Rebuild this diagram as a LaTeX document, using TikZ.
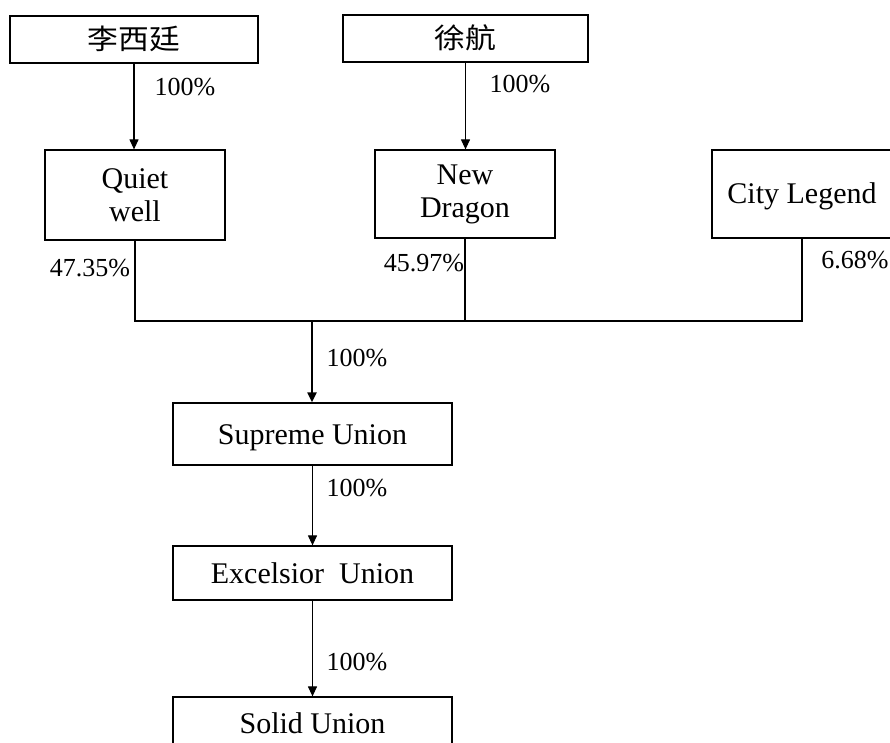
\documentclass[tikz,border=0pt]{standalone}
\usepackage{fontspec}
\setmainfont{Liberation Serif}
\newfontfamily\cjkfont[FakeStretch=1.1]{Noto Sans CJK SC}
\usetikzlibrary{arrows.meta}
\begin{document}
\begin{tikzpicture}[x=1pt,y=-1pt,
  boxbase/.style={draw, line width=1.2pt, rectangle, inner sep=0pt, align=center,
    font=\fontsize{30}{33}\selectfont},
  box/.style={boxbase, text height=20pt, text depth=0pt},
  cjkbox/.style={boxbase, text height=22pt, text depth=2pt, font=\cjkfont\fontsize{28}{30}\selectfont},
  pct/.style={inner sep=0pt, font=\fontsize{26}{30}\selectfont},
  link/.style={line width=1.1pt},
  arr/.style={line width=1.1pt, -{Triangle[length=10pt,width=9pt]}},
  thk/.style={line width=2pt}]
\useasboundingbox (0,0) rectangle (890,743);
\fill[white] (0,0) rectangle (890,743);
% boxes
\node[cjkbox, minimum width=248pt, minimum height=47pt] (a) at (134,39.5) {李西廷};
\node[cjkbox, minimum width=245pt, minimum height=47pt] (b) at (465.5,38.5) {徐航};
\node[boxbase, minimum width=180pt, minimum height=90pt] (q) at (135,195) {Quiet\\well};
\node[boxbase, minimum width=180pt, minimum height=88pt] (n) at (465,194) {New\\Dragon};
\node[box, minimum width=180pt, minimum height=88pt] (c) at (802,194) {City Legend};
\node[box, minimum width=279pt, minimum height=62pt] (s) at (312.5,434) {Supreme Union};
\node[box, minimum width=279pt, minimum height=54pt] (e) at (312.5,573) {Excelsior\ \ Union};
\node[box, minimum width=279pt, minimum height=52pt] (d) at (312.5,723) {Solid Union};
% junction
\coordinate (j) at (312,321);
% connectors
\draw[arr] (a.south) -- (a.south |- q.north);
\draw[arr] (b.south) -- (b.south |- n.north);
\draw[link] (q.south) |- (c.south |- j) -- (c.south);
\draw[link] (n.south) -- (n.south |- j);
\draw[thk] (j) -- (n.south |- j);
\draw[thk, -{Triangle[length=10pt,width=9pt]}] (j) -- (j |- s.north);
\draw[arr] (s.south) -- (s.south |- e.north);
\draw[arr] (e.south) -- (e.south |- d.north);
% labels
\node[pct] (p1) at (185,87) {100\%};
\node[pct] (p2) at (520,84) {100\%};
\node[pct] (p3) at (90,268) {47.35\%};
\node[pct] (p4) at (424,263) {45.97\%};
\node[pct] (p5) at (855,260) {6.68\%};
\node[pct] (p6) at (357,358) {100\%};
\node[pct] (p7) at (357,488) {100\%};
\node[pct] (p8) at (357,662) {100\%};
\end{tikzpicture}
\end{document}
